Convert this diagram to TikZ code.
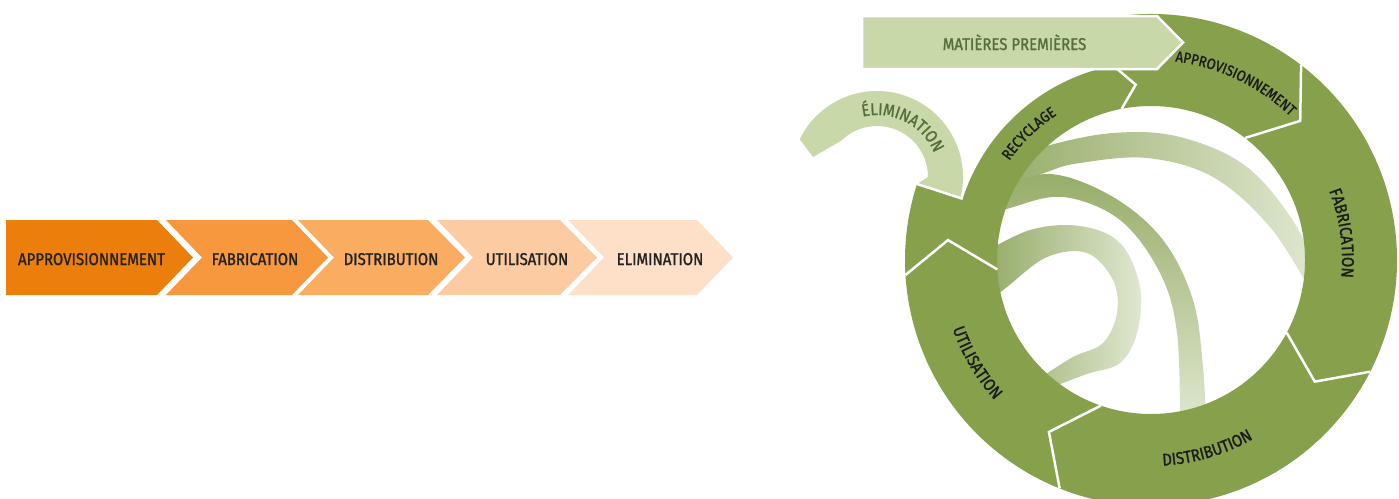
\documentclass[tikz,border=0pt]{standalone}
\usepackage{fontspec}
\setmainfont{Fira Sans}[FakeStretch=0.88, FakeBold=1.3]
\usetikzlibrary{decorations.text}
\definecolor{oA}{HTML}{EC7F0B}
\definecolor{oB}{HTML}{F7973E}
\definecolor{oC}{HTML}{FAAC60}
\definecolor{oD}{HTML}{FCCBA2}
\definecolor{oE}{HTML}{FDE0C7}
\definecolor{labtxt}{HTML}{222222}
\definecolor{ringg}{HTML}{86A04B}
\definecolor{lightg}{HTML}{C8D8A9}
\definecolor{greentxt}{HTML}{566F3A}
\definecolor{ringtxt}{HTML}{1C1C1C}
\definecolor{bandDark}{HTML}{97AD69}
\definecolor{bandMid}{HTML}{92A964}
\definecolor{bandLight}{HTML}{E0E8D1}
\begin{document}
\begin{tikzpicture}[x=1pt,y=1pt,
  olab/.style={font=\fontsize{17}{17}\selectfont, text=labtxt, inner sep=0pt, anchor=base},
  sep/.style={draw=white, line width=2.5pt, line join=miter},
  ]
\useasboundingbox (0,0) rectangle (1399,-498);
% ---------- linear chain ----------
\fill[oA] (6,-220) -- (157,-220) -- (193,-257.5) -- (157,-295) -- (6,-295) -- cycle;
\fill[oB] (166,-220) -- (292,-220) -- (328,-257.5) -- (292,-295) -- (166,-295) -- (202,-257.5) -- cycle;
\fill[oC] (298,-220) -- (428,-220) -- (465,-257.5) -- (428,-295) -- (298,-295) -- (334,-257.5) -- cycle;
\fill[oD] (437,-220) -- (560,-220) -- (597,-257.5) -- (560,-295) -- (437,-295) -- (473,-257.5) -- cycle;
\fill[oE] (568,-220) -- (697,-220) -- (733,-257.5) -- (697,-295) -- (568,-295) -- (604,-257.5) -- cycle;
\node[olab] (lapp) at (91.5,-265) {APPROVISIONNEMENT};
\node[olab] (lfab) at (255,-265) {FABRICATION};
\node[olab] (ldis) at (391,-265) {DISTRIBUTION};
\node[olab] (luti) at (527,-265) {UTILISATION};
\node[olab] (leli) at (660,-265) {ELIMINATION};
% ---------- inner recycling bands ----------
\shade[left color=bandDark, right color=bandLight]
  plot[smooth, tension=0.6] coordinates {(1000,-165) (1043,-147) (1113,-133) (1180,-137) (1247,-167) (1297,-227) (1318,-280)}
  -- plot[smooth, tension=0.6] coordinates {(1310,-290) (1270,-227) (1213,-177) (1147,-158) (1080,-163) (1047,-172) (1000,-192)} -- cycle;
\shade[top color=bandDark, bottom color=bandLight]
  plot[smooth, tension=0.6] coordinates {(995,-190) (1050,-174) (1113,-197) (1163,-240) (1193,-300) (1203,-367) (1206,-425)}
  -- plot[smooth, tension=0.6] coordinates {(1180,-425) (1177,-333) (1160,-273) (1120,-220) (1063,-197) (1010,-208) (985,-218)} -- cycle;
\shade[left color=bandMid, right color=bandLight]
  plot[smooth, tension=0.6] coordinates {(980,-255) (1030,-230) (1080,-226) (1120,-243) (1140,-287) (1137,-333) (1120,-363) (1087,-374) (1050,-388)}
  -- plot[smooth, tension=0.6] coordinates {(1040,-378) (1073,-357) (1103,-343) (1117,-313) (1113,-280) (1087,-253) (1047,-257) (1007,-287) (985,-305)} -- cycle;
% ---------- elimination hook ----------
\begin{scope}[shift={(877,-177)}]
  \fill[lightg] (135:51) arc[start angle=135, end angle=0, radius=51] -- (40.04,-6.98) -- (85.69,-21.81)
    -- (-15:86) arc[start angle=-15, end angle=154, radius=86] -- (-64,20) -- cycle;
  \path[decorate, decoration={text along path, text align=center, text color=greentxt,
     text={|\fontsize{17}{17}\selectfont|ÉLIMINATION}}]
     (112:62) arc[start angle=112, end angle=14, radius=62];
\end{scope}
% ---------- ring ----------
\begin{scope}[shift={(1151,-260)}]
  \fill[ringg, even odd rule] (101:246) arc[start angle=101, end angle=-198, radius=246]
    -- (162:198) arc[start angle=162, end angle=101, radius=198] -- cycle
    (0,0) circle[radius=154];
  \draw[sep] (101:198) -- (95:176) -- (101:154);
  \draw[sep] (52.4:246) -- (43:204) -- (52.4:154);
  \draw[sep] (-27:246) -- (-36.6:204) -- (-28.2:154);
  \draw[sep] (-111.8:246) -- (-120.7:200) -- (-109:154);
  \draw[sep] (183.5:246) -- (174.4:204) -- (183.5:154);
  \draw[sep] (162:198) -- (162:246);
  % ring labels
  \path[decorate, decoration={text along path, text align=center, text color=ringtxt,
     text={|\fontsize{15}{15}\selectfont|APPROVISIONNEMENT}}]
     (100:200) arc[start angle=100, end angle=29, radius=200];
  \path[decorate, decoration={text along path, text align=center, text color=ringtxt,
     text={|\fontsize{17}{17}\selectfont|FABRICATION}}]
     (45:191) arc[start angle=45, end angle=-29, radius=191];
  \path[decorate, decoration={text along path, text align=center, text color=ringtxt,
     text={|\fontsize{17}{17}\selectfont|DISTRIBUTION}}]
     (-110:206) arc[start angle=-110, end angle=-37, radius=206];
  \path[decorate, decoration={text along path, text align=center, text color=ringtxt,
     text={|\fontsize{17}{17}\selectfont|UTILISATION}}]
     (175:210) arc[start angle=175, end angle=246, radius=210];
  \path[decorate, decoration={text along path, text align=center, text color=ringtxt,
     text={|\fontsize{15}{15}\selectfont|RECYCLAGE}}]
     (160:173) arc[start angle=160, end angle=108, radius=173];
\end{scope}
% ---------- raw materials arrow ----------
\fill[lightg, draw=white, line width=2.5pt, line join=miter]
  (862,-16) -- (1157,-16) -- (1183,-42.5) -- (1157,-69) -- (862,-69) -- cycle;
\node[olab, text=greentxt] (lmp) at (1014.5,-50) {MATIÈRES PREMIÈRES};
\end{tikzpicture}
\end{document}
